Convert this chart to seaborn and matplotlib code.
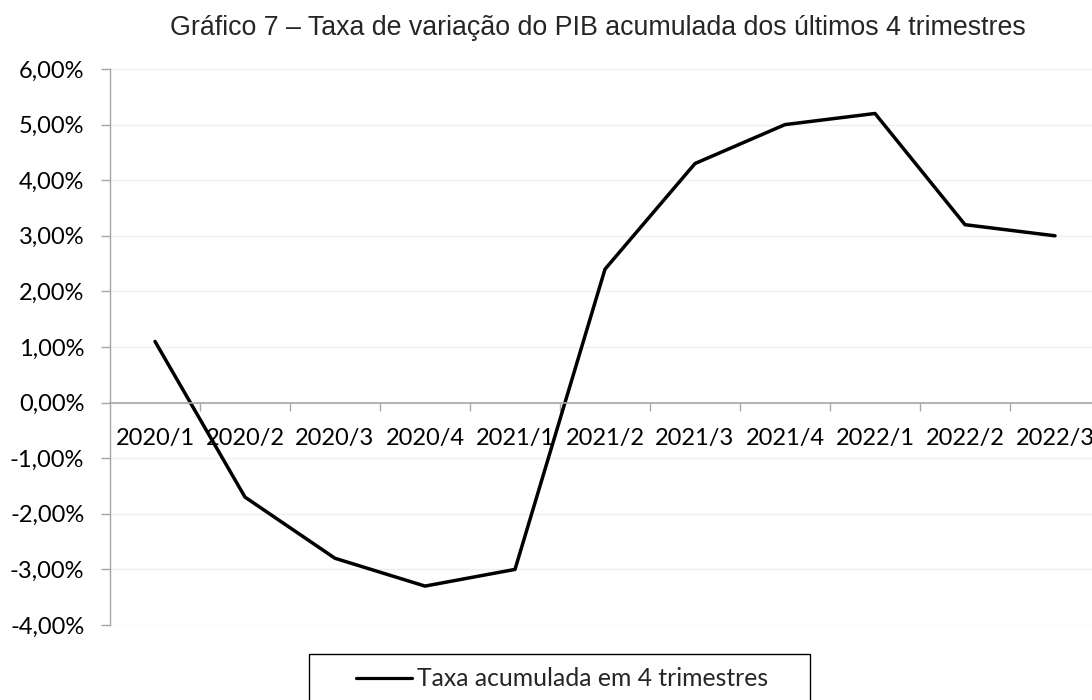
import numpy as np
import pandas as pd
import matplotlib
matplotlib.use("Agg")
import matplotlib.pyplot as plt
import seaborn as sns
from matplotlib.ticker import FixedLocator, FixedFormatter, NullFormatter, FuncFormatter
from matplotlib.patches import Rectangle

# --- data ---
quarters = ["2020/1", "2020/2", "2020/3", "2020/4", "2021/1", "2021/2",
            "2021/3", "2021/4", "2022/1", "2022/2", "2022/3"]
taxa_acumulada = [1.1, -1.7, -2.8, -3.3, -3.0, 2.4, 4.3, 5.0, 5.2, 3.2, 3.0]
y_ticks = [-4, -3, -2, -1, 0, 1, 2, 3, 4, 5, 6]

title = "Gráfico 7 – Taxa de variação do PIB acumulada dos últimos 4 trimestres"
series_label = "Taxa acumulada em 4 trimestres"

df = pd.DataFrame({"trimestre": quarters, "taxa": taxa_acumulada})

sns.set_style("white")
plt.rcParams["font.family"] = ["Lato", "DejaVu Sans"]

W, H = 1092, 700
fig = plt.figure(figsize=(W / 100, H / 100), dpi=100)
# plot area in pixels: x 110..1100 (runs past the right edge), y 69..625
ax = fig.add_axes([110 / W, 1 - 625 / H, 990 / W, (625 - 69) / H])

sns.lineplot(data=df, x="trimestre", y="taxa", color="black", linewidth=2.5,
             sort=False, label=series_label, ax=ax, legend=False)

n = len(quarters)
ax.set_xlim(-0.5, n - 0.5)
ax.set_ylim(min(y_ticks), max(y_ticks))

grey = "#a6a6a6"
for side in ["top", "right"]:
    ax.spines[side].set_visible(False)
ax.spines["left"].set_color(grey)
ax.spines["left"].set_linewidth(1.0)
ax.spines["bottom"].set_color(grey)
ax.spines["bottom"].set_linewidth(1.2)
ax.spines["bottom"].set_position(("data", 0))

# y axis
ax.yaxis.set_major_locator(FixedLocator(y_ticks))
ax.yaxis.set_major_formatter(FuncFormatter(lambda v, p: f"{v:.2f}".replace(".", ",") + "%"))
ax.tick_params(axis="y", which="major", length=6.5, width=1.0, color=grey,
               pad=12, labelsize=17, labelcolor="black", left=True)
ax.yaxis.grid(True, color="#efefef", linewidth=1.0)
ax.set_axisbelow(True)

# x axis: tick marks between categories, labels in the middle
ax.xaxis.set_major_locator(FixedLocator(np.arange(n) + 0.5))
ax.xaxis.set_major_formatter(NullFormatter())
ax.xaxis.set_minor_locator(FixedLocator(np.arange(n)))
ax.xaxis.set_minor_formatter(FixedFormatter(quarters))
ax.tick_params(axis="x", which="major", length=6, width=1.0, color=grey,
               direction="out", bottom=True)
ax.tick_params(axis="x", which="minor", length=0, pad=18, labelsize=17,
               labelcolor="black", bottom=True)
ax.set_xlabel("")
ax.set_ylabel("")

fig.text(598 / W, 1 - 35 / H, title, ha="center", va="baseline",
         family=["Liberation Sans", "DejaVu Sans"], fontsize=19.3)

# legend (Excel style wide box at the bottom)
handles = [plt.Line2D([], [], color="black", linewidth=2.3)]
fig.legend(handles, [series_label], loc="center",
           bbox_to_anchor=(562 / W, 1 - 679 / H), frameon=False,
           fontsize=17.8, handlelength=2.25, handletextpad=0.2)
fig.patches.append(Rectangle((309 / W, 1 - 706 / H), 501 / W, 52 / H,
                             transform=fig.transFigure, fill=False,
                             edgecolor="black", linewidth=1.0))

fig.savefig("out.png", dpi=100)
